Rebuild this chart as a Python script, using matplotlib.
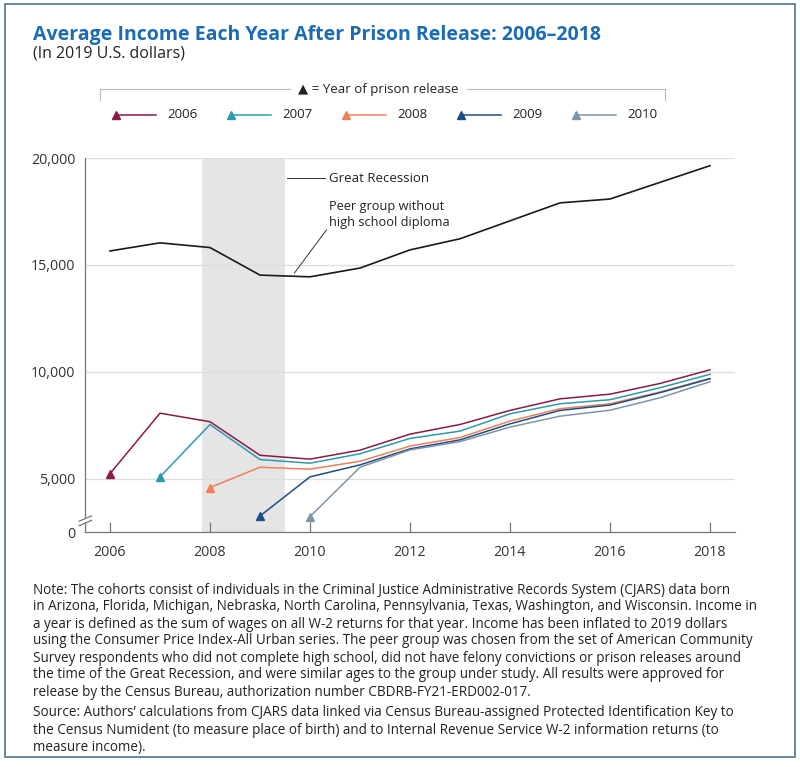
import matplotlib
matplotlib.use("Agg")
import matplotlib.pyplot as plt
from matplotlib.lines import Line2D
from matplotlib.patches import Rectangle

plt.rcParams['font.family'] = ['Open Sans', 'DejaVu Sans']

# ---------------- data ----------------
years = list(range(2006, 2019))
peer = [15650, 16030, 15810, 14520, 14440, 14850, 15700, 16220, 17060, 17900, 18080, 18860, 19640]

cohorts = [2006, 2007, 2008, 2009, 2010]
c2006 = [5230, 8060, 7660, 6090, 5910, 6330, 7080, 7530, 8190, 8730, 8950, 9450, 10090]
c2007 = [5080, 7530, 5890, 5720, 6160, 6880, 7220, 8030, 8500, 8690, 9250, 9880]
c2008 = [4580, 5530, 5440, 5810, 6520, 6920, 7690, 8270, 8500, 9050, 9690]
c2009 = [3250, 5080, 5640, 6390, 6810, 7560, 8190, 8440, 9020, 9670]
c2010 = [3220, 5530, 6340, 6730, 7410, 7920, 8200, 8780, 9530]
cohort_values = [c2006, c2007, c2008, c2009, c2010]
colors = ['#8b1a46', '#2c9aae', '#f07f57', '#1f4c8c', '#7f95a7']

recession = (2007.83, 2009.5)
ytick_vals = [2500, 5000, 10000, 15000, 20000]
ytick_labels = ['0', '5,000', '10,000', '15,000', '20,000']
xtick_vals = [2006, 2008, 2010, 2012, 2014, 2016, 2018]

W, H = 800, 767
fig = plt.figure(figsize=(W / 100, H / 100), dpi=100)

def fx(px):
    return px / W

def fy(py):
    return 1 - py / H

# border
fig.add_artist(Rectangle((fx(5), fy(757)), fx(790), 753 / H, transform=fig.transFigure,
                         fill=False, edgecolor='#5f7d9b', linewidth=1.3))

ax = fig.add_axes([fx(85), fy(532), fx(650), 374 / H])
ax.set_xlim(2005.5, 2018.5)
ax.set_ylim(2500, 20000)

ax.axvspan(recession[0], recession[1], ymin=0, ymax=1, color='#e5e5e6', zorder=0, lw=0)
for v in [5000, 10000, 15000, 20000]:
    ax.axhline(v, color='#dedede', lw=0.9, zorder=0.5)

ax.plot(years, peer, color='#1a1a1a', lw=1.2, zorder=3)
for yr, vals, col in zip(cohorts, cohort_values, colors):
    xs = years[years.index(yr):]
    ax.plot(xs, vals, color=col, lw=1.1, zorder=3)
    ax.plot(xs[0], vals[0], marker='^', color=col, markersize=6.3, zorder=4, clip_on=False)

for s in ['top', 'right']:
    ax.spines[s].set_visible(False)
ax.spines['left'].set_color('#777777')
ax.spines['bottom'].set_color('#777777')
ax.spines['left'].set_linewidth(0.9)
ax.spines['bottom'].set_linewidth(0.9)

ax.set_yticks(ytick_vals)
ax.set_yticklabels(ytick_labels)
ax.set_xticks(xtick_vals)
ax.set_xticklabels([str(x) for x in xtick_vals])
ax.tick_params(axis='y', length=0, pad=7, labelsize=10.3, labelcolor='#333333')
ax.tick_params(axis='x', direction='in', length=7.5, width=0.9, color='#777777',
               pad=9, labelsize=10.3, labelcolor='#333333')

# axis break marks
ax.add_artist(Rectangle((-0.01, 0.026), 0.02, 0.011, transform=ax.transAxes,
                        facecolor='white', edgecolor='none', clip_on=False, zorder=5))
for y0 in [0.024, 0.036]:
    ax.plot([-0.009, 0.010], [y0 - 0.007, y0 + 0.007], transform=ax.transAxes,
            color='#777777', lw=0.9, clip_on=False, zorder=6)

# annotations
ax.plot([2009.54, 2010.3], [19060, 19060], color='#333333', lw=0.7)
ax.text(2010.38, 19060, 'Great Recession', va='center', ha='left', fontsize=9.5, color='#222222')
ax.text(2010.38, 17370, 'Peer group without\nhigh school diploma', va='center', ha='left',
        fontsize=9.2, color='#222222', linespacing=1.3)
ax.plot([2010.33, 2009.69], [16640, 14620], color='#333333', lw=0.7)

# title
fig.text(fx(33), fy(35), 'Average Income Each Year After Prison Release: 2006\u20132018',
         fontsize=14.0, fontweight='bold', color='#1c6cb3', va='center', ha='left')
fig.text(fx(33), fy(54), '(In 2019 U.S. dollars)', fontsize=11.5, color='#222222',
         va='center', ha='left')

# legend header
lg = '#bbbbbb'
fig.add_artist(Line2D([fx(100), fx(290)], [fy(89), fy(89)], color=lg, lw=0.8))
fig.add_artist(Line2D([fx(467), fx(665)], [fy(89), fy(89)], color=lg, lw=0.8))
fig.add_artist(Line2D([fx(100), fx(100)], [fy(89), fy(100)], color=lg, lw=0.8))
fig.add_artist(Line2D([fx(665), fx(665)], [fy(89), fy(100)], color=lg, lw=0.8))
fig.text(fx(378), fy(89), '\u25B2 = Year of prison release', fontsize=9.5, color='#222222',
         va='center', ha='center')

for i, (yr, col) in enumerate(zip(cohorts, colors)):
    x0 = 116 + i * 115
    fig.add_artist(Line2D([fx(x0), fx(x0 + 40)], [fy(115), fy(115)], color=col, lw=1.1))
    fig.add_artist(Line2D([fx(x0)], [fy(115)], color=col, marker='^', markersize=5.5, lw=0))
    fig.text(fx(x0 + 51), fy(115), str(yr), fontsize=9.5, color='#222222', va='center', ha='left')

# notes
note_lines = [
    "Note: The cohorts consist of individuals in the Criminal Justice Administrative Records System (CJARS) data born",
    "in Arizona, Florida, Michigan, Nebraska, North Carolina, Pennsylvania, Texas, Washington, and Wisconsin. Income in",
    "a year is defined as the sum of wages on all W-2 returns for that year. Income has been inflated to 2019 dollars",
    "using the Consumer Price Index-All Urban series. The peer group was chosen from the set of American Community",
    "Survey respondents who did not complete high school, did not have felony convictions or prison releases around",
    "the time of the Great Recession, and were similar ages to the group under study. All results were approved for",
    "release by the Census Bureau, authorization number CBDRB-FY21-ERD002-017.",
]
source_lines = [
    "Source: Authors\u2019 calculations from CJARS data linked via Census Bureau-assigned Protected Identification Key to",
    "the Census Numident (to measure place of birth) and to Internal Revenue Service W-2 information returns (to",
    "measure income).",
]
for i, line in enumerate(note_lines):
    fig.text(fx(33), fy(590 + i * 17), line, fontsize=9.75, color='#222222', va='center', ha='left')
for i, line in enumerate(source_lines):
    fig.text(fx(33), fy(713 + i * 17), line, fontsize=9.75, color='#222222', va='center', ha='left')

fig.savefig('out.png', dpi=100)
